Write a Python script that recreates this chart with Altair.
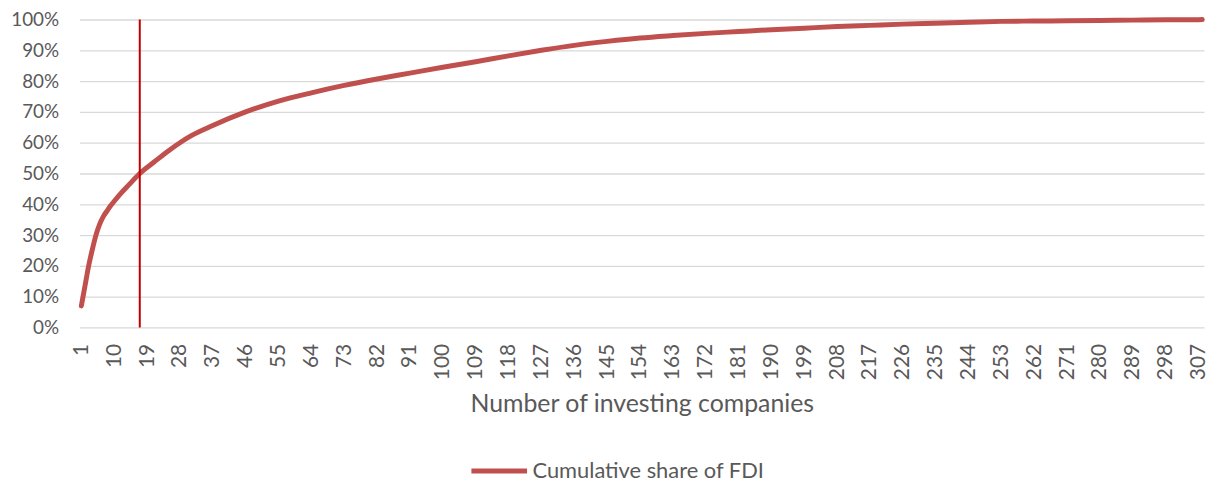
import altair as alt
import pandas as pd

# Cumulative share of FDI (%) at selected company ranks
companies = [1, 2, 3, 4, 5, 6, 7, 8, 9, 10, 12, 14, 17, 21, 25, 28, 31, 37, 46, 55,
             64, 73, 82, 91, 100, 109, 118, 127, 136, 145, 154, 163, 172, 181, 190,
             199, 208, 217, 226, 235, 244, 253, 262, 271, 280, 289, 298, 307, 308]
share_pct = [7.0, 13.5, 20.0, 25.3, 30.0, 33.5, 36.0, 37.8, 39.5, 41.0, 43.8, 46.3, 50.0,
             53.8, 57.5, 60.0, 62.2, 65.6, 70.0, 73.5, 76.2, 78.6, 80.7, 82.6, 84.5,
             86.3, 88.2, 90.0, 91.6, 92.9, 94.0, 94.8, 95.5, 96.1, 96.7, 97.2, 97.7,
             98.1, 98.5, 98.8, 99.1, 99.4, 99.5, 99.6, 99.7, 99.8, 99.9, 99.95, 100.0]
tick_labels = list(range(1, 308, 9))
y_ticks = [i / 10 for i in range(11)]
marker_company = [17]
series_name = "Cumulative share of FDI"

df = pd.DataFrame({
    "company": companies,
    "share": [v / 100 for v in share_pct],
    "series": [series_name] * len(companies),
})
marker_df = pd.DataFrame({"company": marker_company, "y0": [0.0], "y1": [1.0]})

FONT = "Lato"
GREY = "#595959"

x_scale = alt.Scale(domain=[0.5, 308.5], nice=False, zero=False)
y_scale = alt.Scale(domain=[0, 1], nice=False)

line = alt.Chart(df).mark_line(strokeWidth=5, strokeCap="round", strokeJoin="round",
                               interpolate="monotone").encode(
    x=alt.X("company:Q", scale=x_scale,
            axis=alt.Axis(values=tick_labels, tickCount=len(tick_labels) + 5,
                          labelAngle=-90, grid=False, domain=False,
                          ticks=False, labelPadding=16, labelFontSize=21,
                          labelColor=GREY, labelFont=FONT,
                          title="Number of investing companies", titleFont=FONT,
                          titleFontSize=25, titleFontWeight="normal", titleColor=GREY,
                          titlePadding=12, labelOverlap=False, labelFlush=False)),
    y=alt.Y("share:Q", scale=y_scale,
            axis=alt.Axis(values=y_ticks, tickCount=len(y_ticks) + 2, format=".0%",
                          grid=True, gridColor="#D9D9D9",
                          gridWidth=1.3, domain=False, ticks=False, labelPadding=21,
                          labelFontSize=19, labelColor=GREY, labelFont=FONT, title=None,
                          labelOverlap=False, labelFlush=False)),
    color=alt.Color("series:N", scale=alt.Scale(range=["#C0504D"]),
                    legend=alt.Legend(title=None, orient="none", legendX=392, legendY=424,
                                      symbolType="stroke", symbolSize=3136,
                                      symbolStrokeWidth=5, labelFontSize=22,
                                      labelLimit=500,
                                      labelFont=FONT, labelColor=GREY, labelOffset=3)),
)

rule = alt.Chart(marker_df).mark_rule(color="#C00000", strokeWidth=2).encode(
    x=alt.X("company:Q", scale=x_scale),
    y=alt.Y("y0:Q", scale=y_scale),
    y2="y1:Q",
)

chart = alt.layer(line, rule).properties(
    width=1132, height=310,
    autosize=alt.AutoSizeParams(type="none"),
    padding={"left": 72, "top": 10, "right": 5, "bottom": 160},
).configure_view(stroke=None).configure_axis(labelOverlap=False)

chart.save("out.html", embed_options={"renderer": "svg", "actions": False})
